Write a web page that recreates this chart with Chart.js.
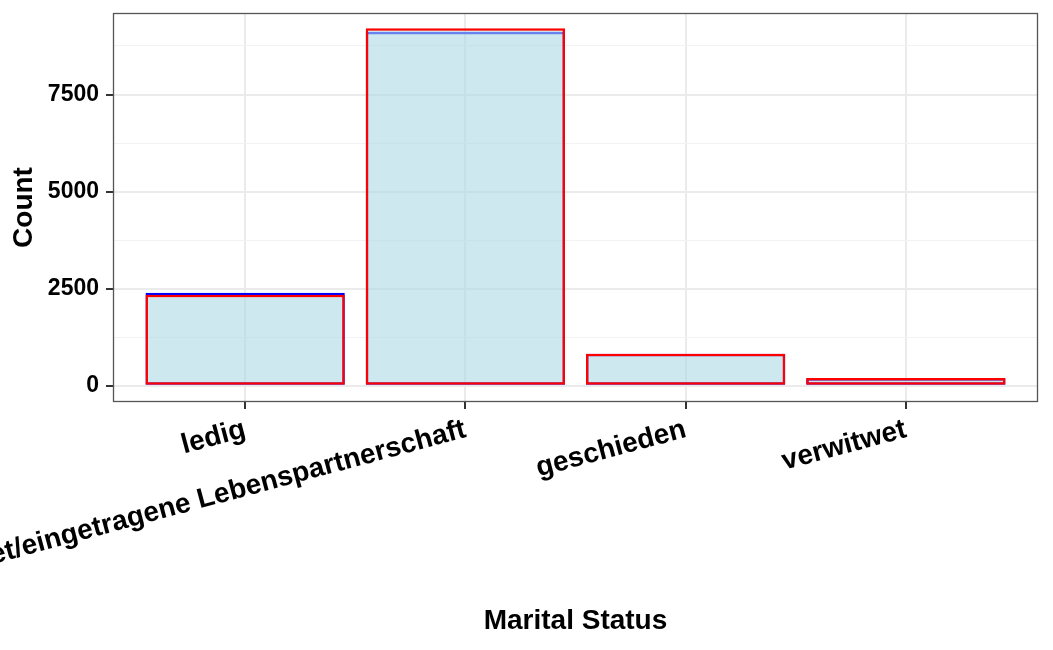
<!DOCTYPE html>
<html>
<head>
<meta charset="utf-8">
<script src="https://cdn.jsdelivr.net/npm/chart.js@4/dist/chart.umd.min.js"></script>
<style>
  html, body { margin: 0; padding: 0; background: #fff; }
  #wrap { width: 1053px; height: 650px; }
</style>
</head>
<body>
<div id="wrap"><canvas id="chart" width="1053" height="650"></canvas></div>
<script>
const categories = ['ledig', 'verheiratet/eingetragene Lebenspartnerschaft', 'geschieden', 'verwitwet'];
const countsBlue = [2395, 9120, 820, 190];
const countsRed = [2340, 9210, 820, 195];
const yMajorTicks = [0, 2500, 5000, 7500];
const yMinorTicks = [1250, 3750, 6250, 8750];

const FONT = "'Liberation Sans', Arial, Helvetica, sans-serif";

// box around the plot panel, like theme_bw
const panelBorder = {
  id: 'panelBorder',
  afterDraw(chart) {
    const { ctx, chartArea: a } = chart;
    ctx.save();
    ctx.strokeStyle = '#555555';
    ctx.lineWidth = 1.3;
    ctx.strokeRect(a.left + 0.5, a.top + 0.5, a.right - a.left - 1, a.bottom - a.top - 1);
    ctx.restore();
  }
};

const isMajor = (ctx) => ctx.tick && yMajorTicks.includes(ctx.tick.value);

new Chart(document.getElementById('chart'), {
  type: 'bar',
  data: {
    datasets: [
      {
        label: 'Count',
        data: countsRed.map((v, i) => ({ x: i, y: v })),
        backgroundColor: 'rgba(173, 216, 230, 0.6)',
        borderColor: '#ff0000',
        borderWidth: 2.5,
        borderSkipped: false,
        order: 0
      },
      {
        label: 'Count (blue)',
        data: countsBlue.map((v, i) => ({ x: i, y: v })),
        backgroundColor: 'rgba(0, 0, 0, 0)',
        borderColor: '#0000ff',
        borderWidth: 2.5,
        borderSkipped: false,
        order: 1
      }
    ]
  },
  options: {
    responsive: false,
    animation: false,
    grouped: false,
    barPercentage: 0.905,
    categoryPercentage: 1,
    layout: { padding: { top: 13, right: 15, bottom: 0, left: 0 } },
    plugins: {
      legend: { display: false },
      tooltip: { enabled: false }
    },
    scales: {
      x: {
        type: 'linear',
        min: -0.6,
        max: 3.6,
        offset: false,
        afterBuildTicks: (scale) => { scale.ticks = categories.map((c, i) => ({ value: i })); },
        afterFit: (scale) => { scale.height = 248; },
        border: { display: false },
        grid: {
          offset: false,
          color: '#ebebeb',
          lineWidth: 2,
          tickColor: '#333333',
          tickWidth: 2,
          tickLength: 7
        },
        ticks: {
          autoSkip: false,
          minRotation: 15,
          maxRotation: 15,
          padding: 4,
          color: '#000000',
          font: { family: FONT, size: 28, weight: 'bold' },
          callback: (v) => categories[v]
        },
        title: {
          display: true,
          text: 'Marital Status',
          color: '#000000',
          padding: { top: 0, bottom: 12 },
          font: { family: FONT, size: 28, weight: 'bold' }
        }
      },
      y: {
        min: -420,
        max: 9600,
        afterBuildTicks: (scale) => {
          scale.ticks = yMajorTicks.concat(yMinorTicks).sort((a, b) => a - b).map(v => ({ value: v }));
        },
        afterFit: (scale) => {
          scale.width = 113;
          scale.paddingTop = 0;
          scale.paddingBottom = 0;
        },
        border: { display: false },
        grid: {
          color: (ctx) => isMajor(ctx) ? '#ebebeb' : '#f2f2f2',
          lineWidth: (ctx) => isMajor(ctx) ? 2 : 1,
          tickColor: (ctx) => isMajor(ctx) ? '#333333' : 'rgba(0,0,0,0)',
          tickWidth: 2,
          tickLength: 7
        },
        ticks: {
          padding: 7,
          color: '#000000',
          font: { family: FONT, size: 23, weight: 'bold' },
          callback: (v) => yMajorTicks.includes(v) ? String(v) : ''
        },
        title: {
          display: true,
          text: 'Count',
          color: '#000000',
          padding: { top: 7, bottom: 0 },
          font: { family: FONT, size: 28, weight: 'bold' }
        }
      }
    }
  },
  plugins: [panelBorder]
});
</script>
</body>
</html>
